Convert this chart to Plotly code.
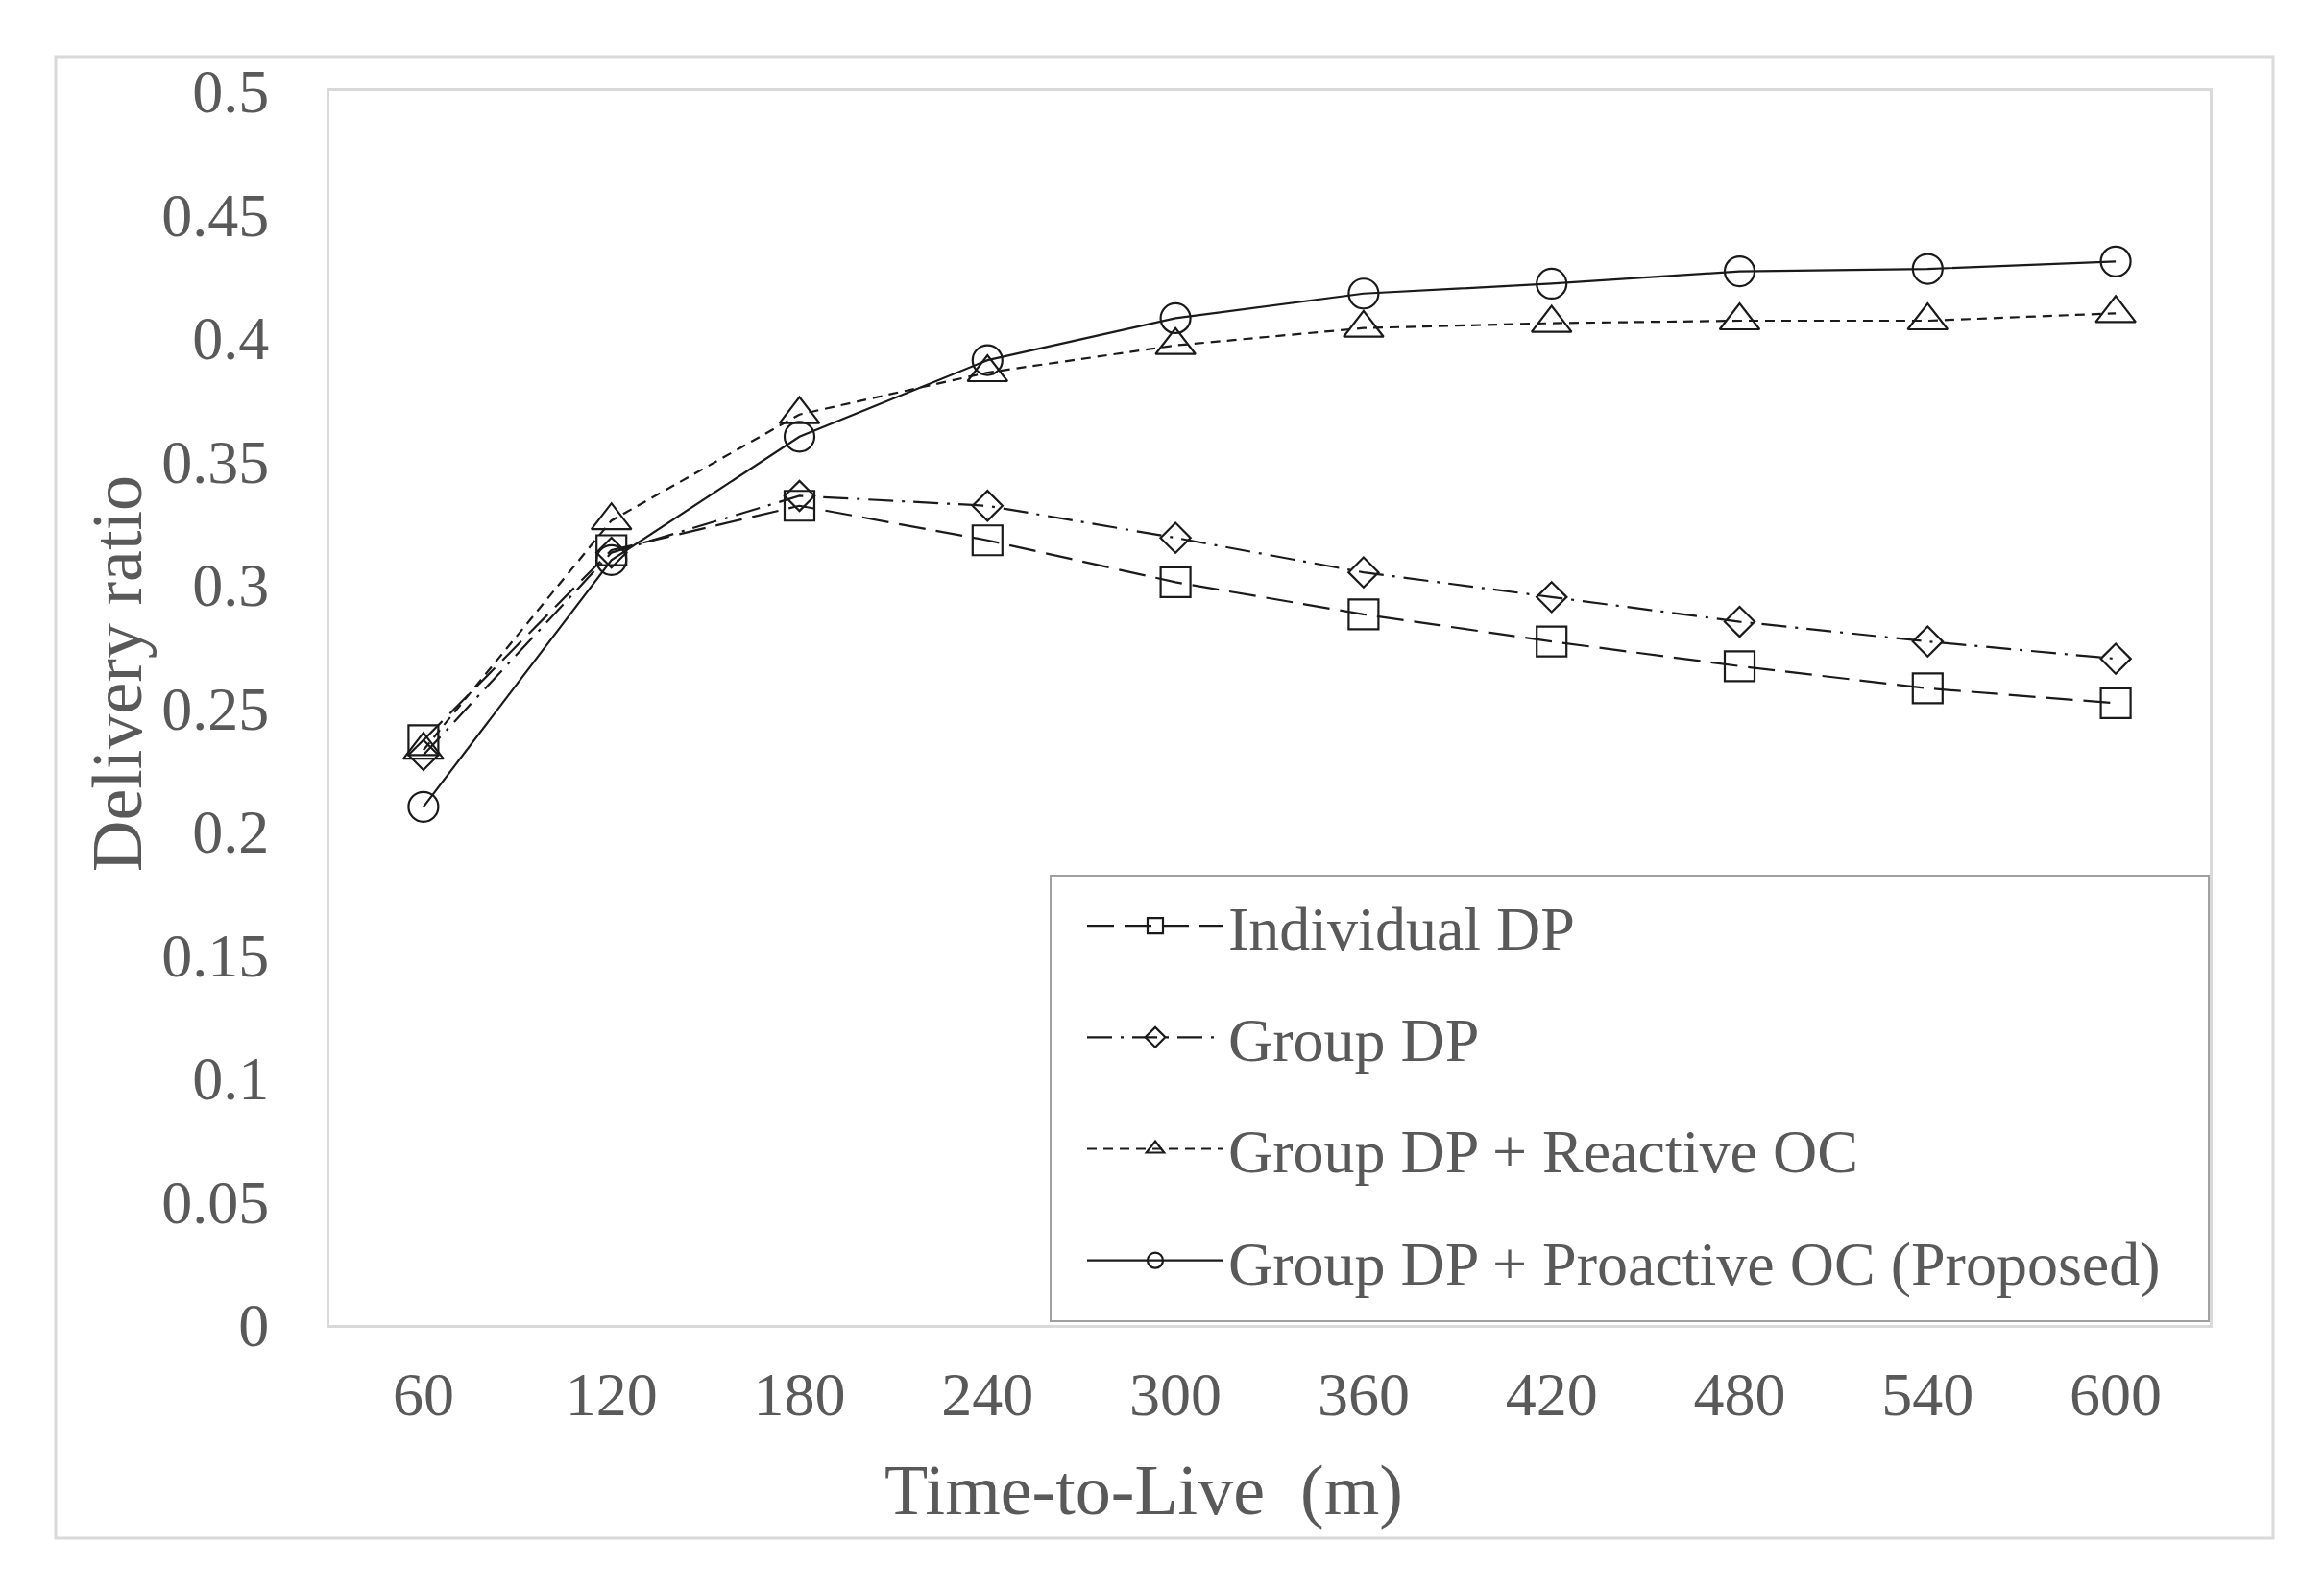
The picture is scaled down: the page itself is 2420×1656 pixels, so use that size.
import plotly.graph_objects as go

# ---- data ----
ttl = ["60", "120", "180", "240", "300", "360", "420", "480", "540", "600"]
individual_dp = [0.237, 0.314, 0.332, 0.318, 0.301, 0.288, 0.277, 0.267, 0.258, 0.252]
group_dp = [0.231, 0.313, 0.336, 0.332, 0.319, 0.305, 0.295, 0.285, 0.277, 0.270]
group_reactive = [0.233, 0.326, 0.369, 0.386, 0.397, 0.404, 0.406, 0.407, 0.407, 0.410]
group_proactive = [0.210, 0.310, 0.360, 0.391, 0.408, 0.418, 0.422, 0.427, 0.428, 0.431]
series_names = ["Individual DP", "Group DP", "Group DP + Reactive OC",
                "Group DP + Proactive OC (Proposed)"]
y_tickvals = [0, 0.05, 0.1, 0.15, 0.2, 0.25, 0.3, 0.35, 0.4, 0.45, 0.5]
y_ticktext = ["0", "0.05", "0.1", "0.15", "0.2", "0.25", "0.3", "0.35", "0.4", "0.45", "0.5"]
x_title = "Time-to-Live  (m)"
y_title = "Delivery ratio"

FONT = "Liberation Serif"
GRAY = "#595959"
LINE = "#1a1a1a"

styles = [
    dict(dash="28px,11px", symbol="square-open", size=31),
    dict(dash="26px,9px,3px,9px", symbol="diamond-open", size=24),
    dict(dash="10px,7px", symbol="triangle-up-open", size=36),
    dict(dash="solid", symbol="circle-open", size=31),
]
values = [individual_dp, group_dp, group_reactive, group_proactive]

fig = go.Figure()
for i, (name, vals, st) in enumerate(zip(series_names, values, styles)):
    fig.add_trace(go.Scatter(
        x=ttl, y=vals, name=name, mode="lines+markers",
        legendgroup=f"g{i}",
        line=dict(color=LINE, width=2.2, dash=st["dash"]),
        marker=dict(symbol=st["symbol"], size=st["size"], color=LINE,
                    line=dict(color=LINE, width=2.2)),
    ))

# page body has an 8px margin; image-space plot area:
OFF = 8
L, R, T, B = 343, 2301, 95, 1380
W, H = 2420 - 2 * OFF, 1656 - 2 * OFF
pw, ph = R - L, B - T

def px_x(x):
    return (x - L) / pw

def px_y(y):
    return (B - y) / ph

fig.update_layout(
    width=W, height=H,
    margin=dict(l=L - OFF, r=W - (R - OFF), t=T - OFF, b=H - (B - OFF), pad=0),
    paper_bgcolor="white", plot_bgcolor="white",
    showlegend=True,
    legend=dict(
        x=px_x(1127), y=px_y(916), xanchor="left", yanchor="top",
        bgcolor="rgba(0,0,0,0)", borderwidth=0,
        font=dict(family=FONT, size=64, color=GRAY),
        traceorder="grouped", tracegroupgap=30, itemwidth=142,
    ),
    xaxis=dict(
        type="category", range=[-0.5, 9.5], showgrid=False, zeroline=False,
        showline=True, mirror=True, linecolor="#d9d9d9", linewidth=3,
        ticks="", tickfont=dict(family=FONT, size=64, color=GRAY),
        ticklabelstandoff=14,
    ),
    yaxis=dict(
        range=[0, 0.5], showgrid=False, zeroline=False,
        showline=True, mirror=True, linecolor="#d9d9d9", linewidth=3,
        tickvals=y_tickvals, ticktext=y_ticktext,
        ticks="", tickfont=dict(family=FONT, size=64, color=GRAY),
        ticklabelstandoff=47,
    ),
    shapes=[
        dict(type="rect", xref="paper", yref="paper",
             x0=px_x(58), x1=px_x(2367), y0=px_y(1602), y1=px_y(59),
             line=dict(color="#d9d9d9", width=3), fillcolor="rgba(0,0,0,0)",
             layer="below"),
        dict(type="rect", xref="paper", yref="paper",
             x0=px_x(1094), x1=px_x(2300), y0=px_y(1376), y1=px_y(912),
             line=dict(color="#a0a0a0", width=2), fillcolor="white",
             layer="below"),
    ],
    annotations=[
        dict(text=x_title, xref="paper", yref="paper", x=px_x(1191), y=px_y(1552),
             xanchor="center", yanchor="middle", showarrow=False,
             font=dict(family=FONT, size=74, color=GRAY)),
        dict(text=y_title, xref="paper", yref="paper", x=px_x(122), y=px_y(702),
             xanchor="center", yanchor="middle", showarrow=False, textangle=-90,
             font=dict(family=FONT, size=74, color=GRAY)),
    ],
)

fig.write_html("out.html")
